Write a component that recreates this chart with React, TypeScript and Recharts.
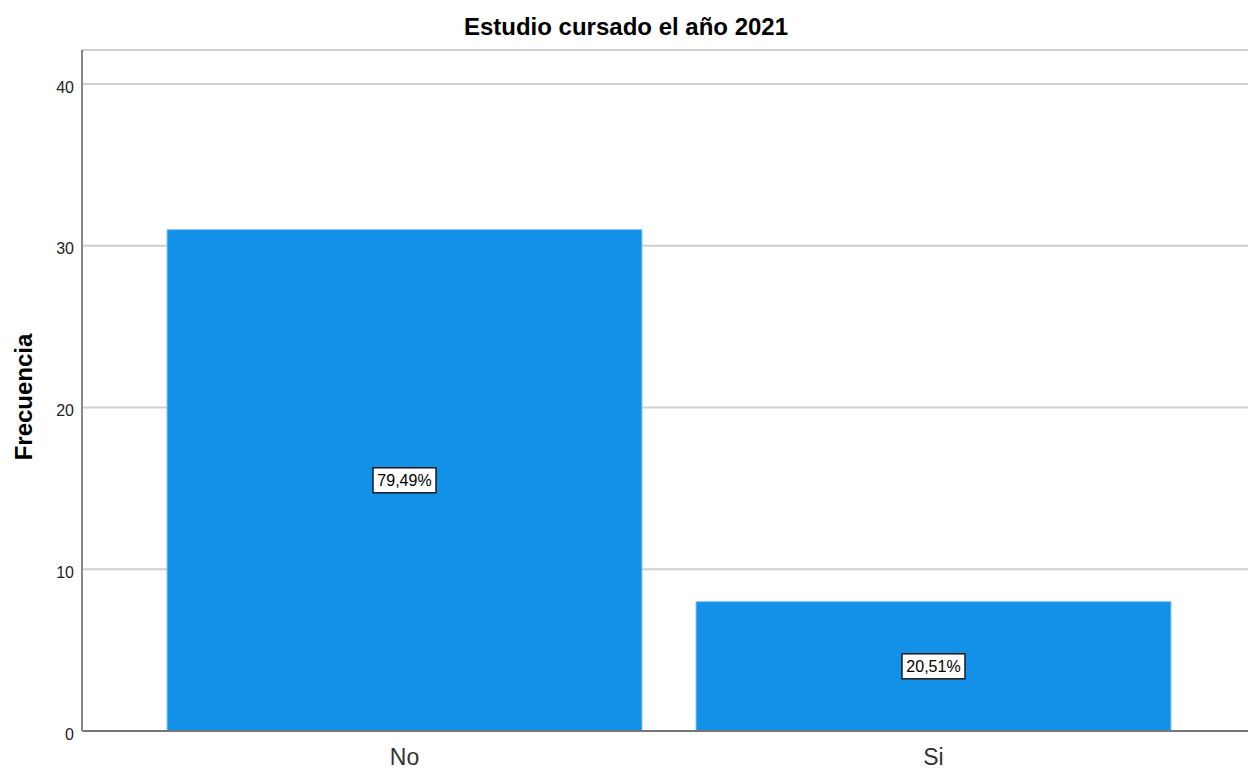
import React from 'react';
import { BarChart, Bar, XAxis, YAxis, CartesianGrid, LabelList } from 'recharts';

const categories = ['No', 'Si'];
const frequencies = [31, 8];
const percentLabels = ['79,49%', '20,51%'];
const yTicks = [0, 10, 20, 30, 40];

const data = categories.map((c, i) => ({ name: c, value: frequencies[i], pct: percentLabels[i] }));

const FONT = '"Liberation Sans", Arial, Helvetica, sans-serif';

const PctLabel = (props: any) => {
  const { x, y, width, height, index } = props;
  const cx = x + width / 2;
  const cy = y + height / 2;
  const w = 63;
  const h = 25;
  return (
    <g>
      <rect x={cx - w / 2} y={cy - h / 2} width={w} height={h} fill="#ffffff" stroke="#1a1a1a" strokeWidth={1.5} />
      <text x={cx} y={cy} textAnchor="middle" dominantBaseline="central" fontFamily={FONT} fontSize={16} fill="#000">
        {percentLabels[index]}
      </text>
    </g>
  );
};

const YLabel = () => (
  <text x={32} y={397} transform="rotate(-90 32 397)" textAnchor="middle" fontFamily={FONT} fontWeight="bold" fontSize={24} fill="#000">
    Frecuencia
  </text>
);

export default function App() {
  return (
    <div style={{ position: 'absolute', left: 0, top: 0, width: 1248, height: 771, background: '#fff' }}>
      <div
        style={{
          position: 'absolute',
          left: 0,
          width: 1252,
          top: 14,
          textAlign: 'center',
          fontFamily: FONT,
          fontWeight: 'bold',
          fontSize: 24,
          lineHeight: '26px',
          color: '#000',
        }}
      >
        Estudio cursado el año 2021
      </div>
      <BarChart
        width={1248}
        height={771}
        data={data}
        margin={{ top: 50, right: 0, bottom: 0, left: 0 }}
        barCategoryGap={27}
      >
        <CartesianGrid vertical={false} stroke="#cfcfcf" strokeWidth={2} />
        <XAxis
          dataKey="name"
          height={40}
          padding={{ left: 58, right: 50 }}
          tickLine={false}
          tickMargin={12}
          axisLine={{ stroke: '#777', strokeWidth: 2 }}
          tick={{ fontFamily: FONT, fontSize: 23, fill: '#333' }}
        />
        <YAxis
          width={82}
          domain={[0, 42.1]}
          ticks={yTicks}
          allowDataOverflow
          tickLine={false}
          axisLine={{ stroke: '#888', strokeWidth: 2 }}
          tick={{ fontFamily: FONT, fontSize: 16, fill: '#222', dy: 3 }}
          label={<YLabel />}
        />
        <Bar dataKey="value" fill="#1391E8" stroke="#8cc9f5" strokeWidth={1} barSize={475} isAnimationActive={false}>
          <LabelList dataKey="pct" content={<PctLabel />} />
        </Bar>
      </BarChart>
    </div>
  );
}
